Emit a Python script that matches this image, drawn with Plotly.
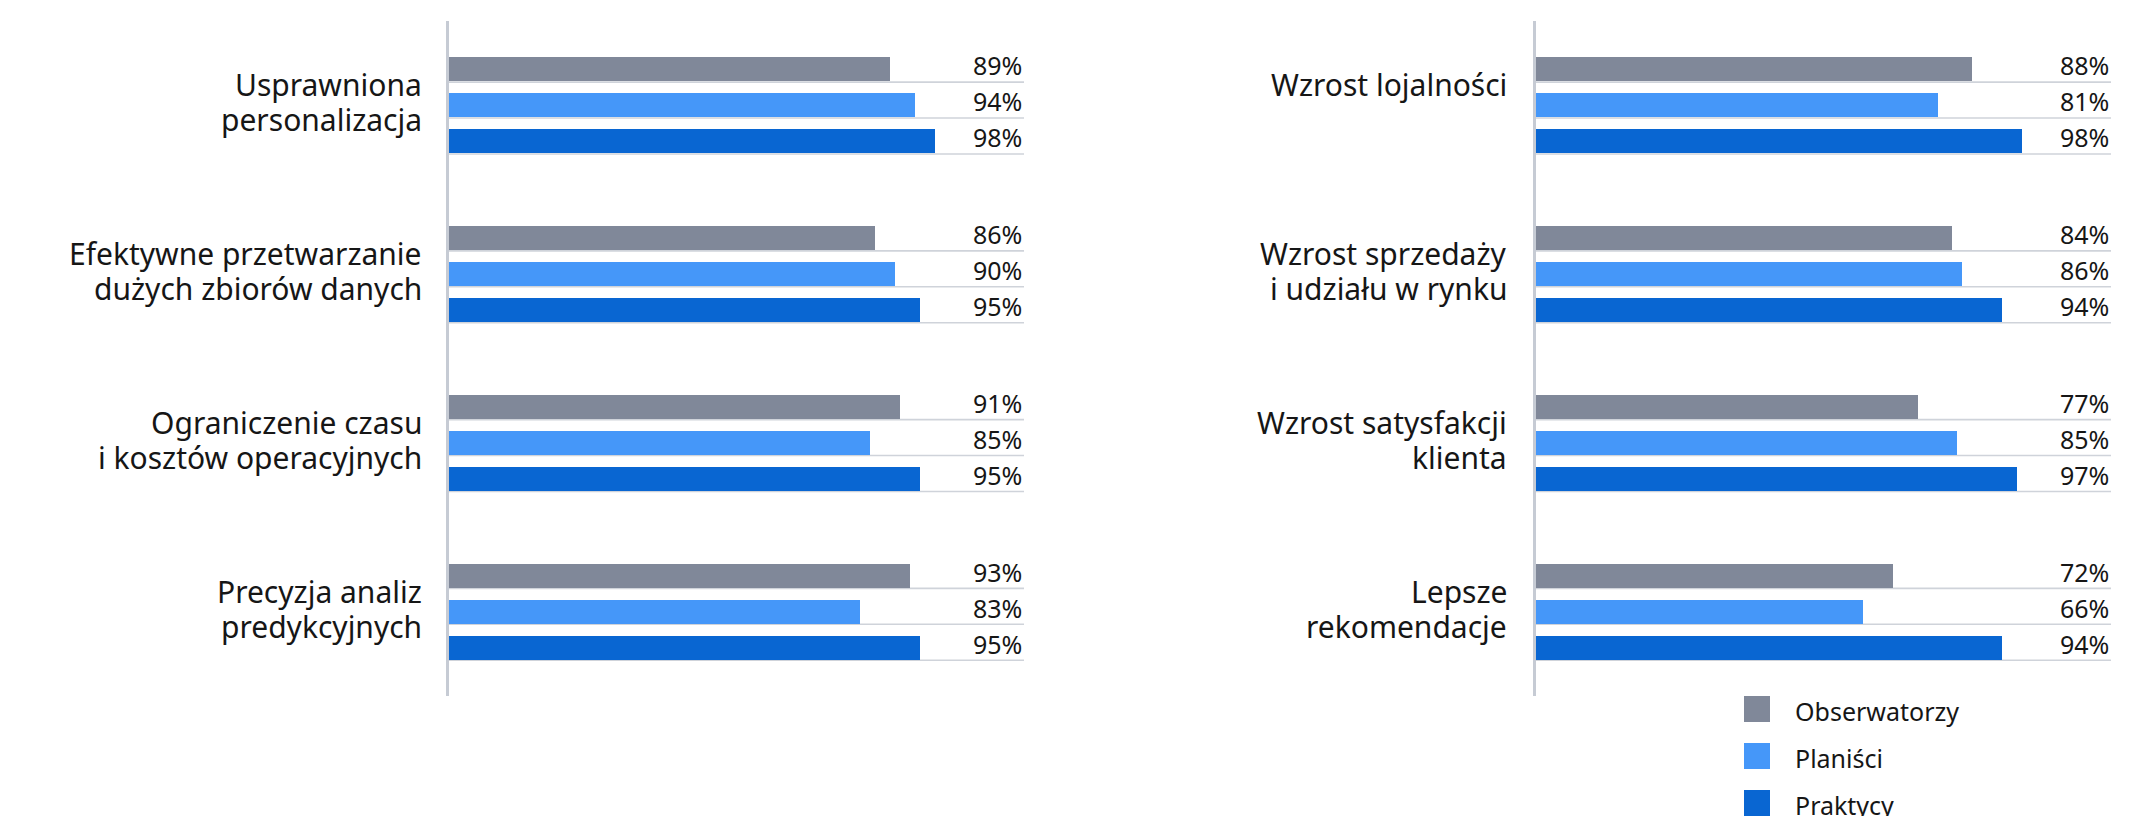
import plotly.graph_objects as go
from plotly.subplots import make_subplots

# ---- data -------------------------------------------------------------
series = ["Obserwatorzy", "Planiści", "Praktycy"]
colors = ["#808899", "#4597F9", "#0966D2"]

# category labels, one entry per printed line
left_categories = [
    ["Usprawniona", "personalizacja"],
    ["Efektywne przetwarzanie", "dużych zbiorów danych"],
    ["Ograniczenie czasu", "i kosztów operacyjnych"],
    ["Precyzja analiz", "predykcyjnych"],
]
left_obserwatorzy = [89, 86, 91, 93]
left_planisci = [94, 90, 85, 83]
left_praktycy = [98, 95, 95, 95]

right_categories = [
    ["Wzrost lojalności", ""],
    ["Wzrost sprzedaży", "i udziału w rynku"],
    ["Wzrost satysfakcji", "klienta"],
    ["Lepsze", "rekomendacje"],
]
right_obserwatorzy = [88, 84, 77, 72]
right_planisci = [81, 86, 85, 66]
right_praktycy = [98, 94, 97, 94]

# ---- geometry ---------------------------------------------------------
W, H = 2137, 816
X_MAX = 116          # value axis extent (percent)
SLOT = 0.213         # distance between bars inside one group (category units)
BAR_W = 0.142        # bar thickness (category units)
LINE_H = 35          # line spacing of category labels, px
FONT = "Noto Sans"
TEXT = "#161616"
RULE = "#cfd3da"


def px_x(p):
    return p / W


def px_y(p):
    return 1 - p / H


fig = make_subplots(rows=1, cols=2)

panels = [
    (1, left_categories, [left_obserwatorzy, left_planisci, left_praktycy], -25),
    (2, right_categories, [right_obserwatorzy, right_planisci, right_praktycy], -27),
]

annotations = []
shapes = []

for col, cats, values, label_shift in panels:
    xref = "x" if col == 1 else "x2"
    yref = "y" if col == 1 else "y2"
    for s, (name, color, vals) in enumerate(zip(series, colors, values)):
        pos = [g + (s - 1) * SLOT for g in range(len(cats))]
        fig.add_trace(
            go.Bar(
                x=vals,
                y=pos,
                orientation="h",
                width=BAR_W,
                marker=dict(color=color, line=dict(width=0)),
                name=name,
                showlegend=False,
                hoverinfo="skip",
            ),
            row=1,
            col=col,
        )
        for p, v in zip(pos, vals):
            # thin rule running under each bar
            shapes.append(
                dict(
                    type="line",
                    xref=xref,
                    yref=yref,
                    x0=0,
                    x1=X_MAX,
                    y0=p + BAR_W / 2 + 0.004,
                    y1=p + BAR_W / 2 + 0.004,
                    line=dict(color=RULE, width=1.6),
                    layer="below",
                )
            )
            annotations.append(
                dict(
                    xref=xref,
                    yref=yref,
                    x=X_MAX,
                    y=p,
                    xanchor="right",
                    yanchor="middle",
                    yshift=4,
                    text=f"{v}%",
                    showarrow=False,
                    font=dict(family=FONT, size=25, color=TEXT),
                )
            )

    # category labels, right-aligned against the axis line
    for g, lines in enumerate(cats):
        n = len(lines)
        for i, line in enumerate(lines):
            if not line:
                continue
            annotations.append(
                dict(
                    xref=xref,
                    yref=yref,
                    x=0,
                    y=g,
                    xanchor="right",
                    yanchor="middle",
                    xshift=label_shift,
                    yshift=-(i - (n - 1) / 2) * LINE_H + 3,
                    text=line,
                    showarrow=False,
                    font=dict(family=FONT, size=30, color=TEXT),
                )
            )

axis_common = dict(
    range=[3.5, -0.5],
    showticklabels=False,
    showgrid=False,
    zeroline=False,
    showline=True,
    linecolor="#c6cbd4",
    linewidth=2.5,
    ticks="",
)
fig.update_yaxes(**axis_common)
fig.update_xaxes(range=[0, X_MAX], visible=False, showgrid=False, zeroline=False)

fig.update_layout(
    xaxis=dict(domain=[px_x(449), px_x(1024)]),
    xaxis2=dict(domain=[px_x(1536), px_x(2111)]),
    yaxis=dict(domain=[px_y(696), px_y(21)]),
    yaxis2=dict(domain=[px_y(696), px_y(21)]),
)

# ---- legend -----------------------------------------------------------
legend_rows = [709, 756, 803]
for name, color, cy in zip(series, colors, legend_rows):
    shapes.append(
        dict(
            type="rect",
            xref="paper",
            yref="paper",
            x0=px_x(1744),
            x1=px_x(1770),
            y0=px_y(cy + 13),
            y1=px_y(cy - 13),
            fillcolor=color,
            line=dict(width=0),
        )
    )
    annotations.append(
        dict(
            xref="paper",
            yref="paper",
            x=px_x(1793),
            y=px_y(cy + 2),
            xanchor="left",
            yanchor="middle",
            text=name,
            showarrow=False,
            font=dict(family=FONT, size=25, color=TEXT),
        )
    )

fig.update_layout(
    width=W,
    height=H,
    margin=dict(l=0, r=0, t=0, b=0),
    paper_bgcolor="white",
    plot_bgcolor="white",
    bargap=0,
    showlegend=False,
    shapes=shapes,
    annotations=annotations,
)

fig.write_html("out.html")
